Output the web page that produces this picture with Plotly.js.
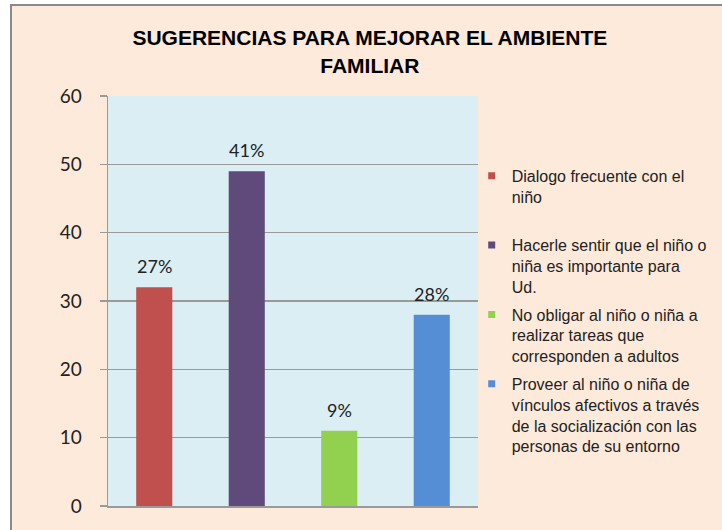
<!DOCTYPE html>
<html>
<head>
<meta charset="utf-8">
<script src="https://cdn.plot.ly/plotly-3.0.1.min.js"></script>
<style>
  html, body { margin: 0; padding: 0; background: #ffffff; width: 722px; height: 530px; overflow: hidden; }
  #wrap { position: absolute; left: 10px; top: 4px; border-left: 2px solid #8a8a8a; border-top: 2px solid #8a8a8a; }
  #chart { width: 710px; height: 524px; }
</style>
</head>
<body>
<div id="wrap"><div id="chart"></div></div>
<script>
// ---- data ----
const categories = ["Dialogo", "Hacerle sentir", "No obligar", "Proveer"];
const values = [32, 49, 11, 28];
const percentLabels = ["27%", "41%", "9%", "28%"];
const legendNames = [
  "Dialogo frecuente con el<br>niño<br> ",
  "Hacerle sentir que el niño o<br>niña es importante para<br>Ud.",
  "No obligar al niño o niña a<br>realizar tareas que<br>corresponden a adultos",
  "Proveer al niño o niña de<br>vínculos afectivos a través<br>de la socialización con las<br>personas de su entorno"
];
const colors = ["#C0504D", "#604A7B", "#92D050", "#558ED5"];
const yTicks = [0, 10, 20, 30, 40, 50, 60];

const traces = [{
  type: "bar",
  x: categories,
  y: values,
  marker: { color: colors },
  showlegend: false,
  hoverinfo: "none"
}];
legendNames.forEach((n, i) => {
  traces.push({
    type: "scatter",
    mode: "markers",
    x: [null],
    y: [null],
    name: n,
    legendgroup: "g" + i,
    marker: { symbol: "square", size: 7, color: colors[i] },
    showlegend: true
  });
});

const annotations = categories.map((c, i) => ({
  x: c, y: values[i], xref: "x", yref: "y",
  text: percentLabels[i], showarrow: false,
  yanchor: "bottom", yshift: 8,
  font: { family: "Lato, 'DejaVu Sans', sans-serif", size: 18, color: "#222222" }
}));

const layout = {
  width: 710, height: 524,
  paper_bgcolor: "#FDEADA",
  plot_bgcolor: "#DBEEF4",
  margin: { l: 96, r: 244, t: 90, b: 24, pad: 0, autoexpand: false },
  title: {
    text: "<b>SUGERENCIAS PARA MEJORAR EL AMBIENTE<br>FAMILIAR</b>",
    font: { family: "'Liberation Sans', Arial, sans-serif", size: 21, color: "#000000" },
    xref: "container", yref: "container",
    x: 0.504, xanchor: "center",
    y: 0.925, yanchor: "top"
  },
  barmode: "overlay",
  bargap: 0.61,
  xaxis: {
    type: "category",
    showticklabels: false,
    ticks: "",
    showline: true, linecolor: "#9a9a9a", linewidth: 1.5,
    showgrid: false, zeroline: false,
    fixedrange: true
  },
  yaxis: {
    range: [0, 60],
    tickvals: yTicks,
    ticktext: yTicks.map(String),
    ticks: "outside", ticklen: 7, tickcolor: "#9a9a9a", tickwidth: 1.5,
    showline: true, linecolor: "#9a9a9a", linewidth: 1.5,
    showgrid: true, gridcolor: "#9a9a9a", gridwidth: 1.5,
    zeroline: false,
    ticklabelstandoff: 14,
    tickfont: { family: "Lato, 'DejaVu Sans', sans-serif", size: 19, color: "#222222" },
    fixedrange: true
  },
  showlegend: true,
  legend: {
    x: 0.983, xanchor: "left", xref: "paper",
    y: 0.847, yanchor: "top",
    bgcolor: "rgba(0,0,0,0)",
    valign: "top",
    tracegroupgap: 4,
    itemwidth: 30,
    font: { family: "'Liberation Sans', Arial, sans-serif", size: 16, color: "#222222" }
  },
  annotations: annotations
};

Plotly.newPlot("chart", traces, layout, { displayModeBar: false, staticPlot: true });
</script>
</body>
</html>
